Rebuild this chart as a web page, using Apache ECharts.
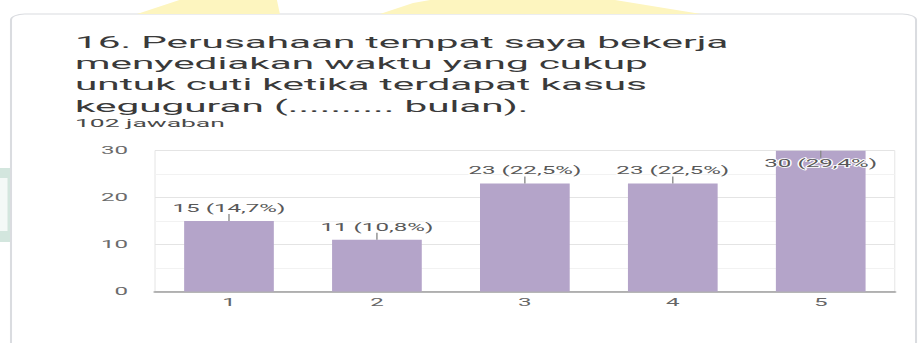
<!DOCTYPE html>
<html>
<head>
<meta charset="utf-8">
<script src="https://cdn.jsdelivr.net/npm/echarts@6/dist/echarts.min.js"></script>
<style>
  html, body { margin: 0; padding: 0; background: #ffffff; overflow: hidden; }
  #stage { width: 918px; height: 343px; overflow: hidden; position: relative; background: #ffffff; }
  /* the chart is laid out narrow and widened horizontally, like a stretched form screenshot */
  #chart { position: absolute; left: 0; top: 0; width: 399.13px; height: 343px;
           transform: scaleX(2.3); transform-origin: 0 0; }
</style>
</head>
<body>
<div id="stage"><div id="chart"></div></div>
<script>
// Question text and answer data
const titleLines = [
  '16. Perusahaan tempat saya bekerja',
  'menyediakan waktu yang cukup',
  'untuk cuti ketika terdapat kasus',
  'keguguran (.......... bulan).'
];
const answerWord = 'jawaban';
const categories = ['1', '2', '3', '4', '5'];
const counts = [15, 11, 23, 23, 30];
const yTicks = [0, 10, 20, 30];

const total = counts.reduce((a, b) => a + b, 0);
const yMin = yTicks[0];
const yMax = yTicks[yTicks.length - 1];
const yStep = yTicks[1] - yTicks[0];

const pct = v => (v / total * 100).toFixed(1).replace('.', ',');
const reachesTop = v => v >= yMax - 2;

const FONT = 'Roboto, "Noto Sans", sans-serif';
const BAR = '#b4a4c9';

const chart = echarts.init(document.getElementById('chart'), null, { renderer: 'svg' });

chart.setOption({
  animation: false,
  backgroundColor: 'transparent',
  title: {
    text: total + ' ' + answerWord,
    left: 32.6, top: 117.5, padding: 0,
    textStyle: { fontFamily: FONT, fontSize: 11.5, fontWeight: 'normal', color: '#4a4a4a' }
  },
  graphic: {
    elements: [
      // form card outline
      { type: 'rect', z: -1, shape: { x: 4.78, y: 14, width: 393.5, height: 360, r: 6 },
        style: { fill: 'none', stroke: '#dadce0', lineWidth: 0.9 } },
      // background decoration above the card
      { type: 'polygon', z: -1, shape: { points: [[59.6, 14], [78, 0], [120.4, 0], [121.7, 14]] },
        style: { fill: '#fdf5bf' } },
      { type: 'polygon', z: -1, shape: { points: [[165.2, 14], [179.6, 3], [187, 0], [267.4, 0], [304.8, 14]] },
        style: { fill: '#fdf5bf' } },
      // side tab at the left edge
      { type: 'rect', z: -1, shape: { x: -3, y: 168, width: 7.35, height: 74 },
        style: { fill: '#d3e6de' } },
      { type: 'rect', z: -1, shape: { x: -3, y: 178, width: 6.26, height: 53 },
        style: { fill: '#f4f9f7' } },
      // question text
      { type: 'text', x: 32.6, y: 31.5, scaleX: 1.1, scaleY: 1,
        style: { text: titleLines.join('\n'), fontFamily: FONT, fontSize: 16, fontWeight: 'normal',
                 lineHeight: 21.4, fill: '#3a3a3a', verticalAlign: 'top', align: 'left' } }
    ]
  },
  grid: {
    left: 67.4, right: 10, top: 150.7, bottom: 51.5,
    show: true, borderColor: '#ececec', borderWidth: 0.6, backgroundColor: 'transparent'
  },
  xAxis: {
    type: 'category',
    data: categories,
    axisLine: { lineStyle: { color: '#9e9e9e', width: 1.6 } },
    axisTick: { show: false },
    axisLabel: { fontFamily: FONT, fontSize: 10.5, color: '#666666', margin: 5.5 },
    splitLine: { show: false }
  },
  yAxis: {
    type: 'value',
    min: yMin, max: yMax, interval: yStep,
    axisLine: { show: false },
    axisTick: { show: false },
    axisLabel: { fontFamily: FONT, fontSize: 10.5, color: '#6b6b6b', margin: 11.7 },
    splitLine: { lineStyle: { color: '#e4e4e4', width: 1 } },
    minorTick: { show: false, splitNumber: 2 },
    minorSplitLine: { show: true, lineStyle: { color: '#f2f2f2', width: 1 } }
  },
  series: [
    {
      type: 'bar',
      barWidth: 39,
      itemStyle: { color: BAR },
      data: counts.map(v => ({
        value: v,
        label: reachesTop(v)
          ? { position: 'insideTop', distance: 7.8 }
          : { position: 'top', distance: 7 }
      })),
      label: {
        show: true,
        fontFamily: FONT, fontSize: 10.5, color: '#585858',
        textBorderColor: '#ffffff', textBorderWidth: 1.4,
        formatter: p => p.value + ' (' + pct(p.value) + '%)'
      },
      z: 2
    },
    {
      // short leader ticks joining each value label to its bar
      type: 'custom',
      data: counts.map((v, i) => [i, v]),
      z: 3,
      silent: true,
      renderItem: (params, api) => {
        const v = api.value(1);
        const p = api.coord([api.value(0), v]);
        const end = reachesTop(v) ? p[1] + 7 : p[1] - 7;
        return {
          type: 'line',
          shape: { x1: p[0], y1: p[1], x2: p[0], y2: end },
          style: { stroke: '#8a8a8a', lineWidth: 0.6 }
        };
      }
    }
  ]
});
</script>
</body>
</html>
